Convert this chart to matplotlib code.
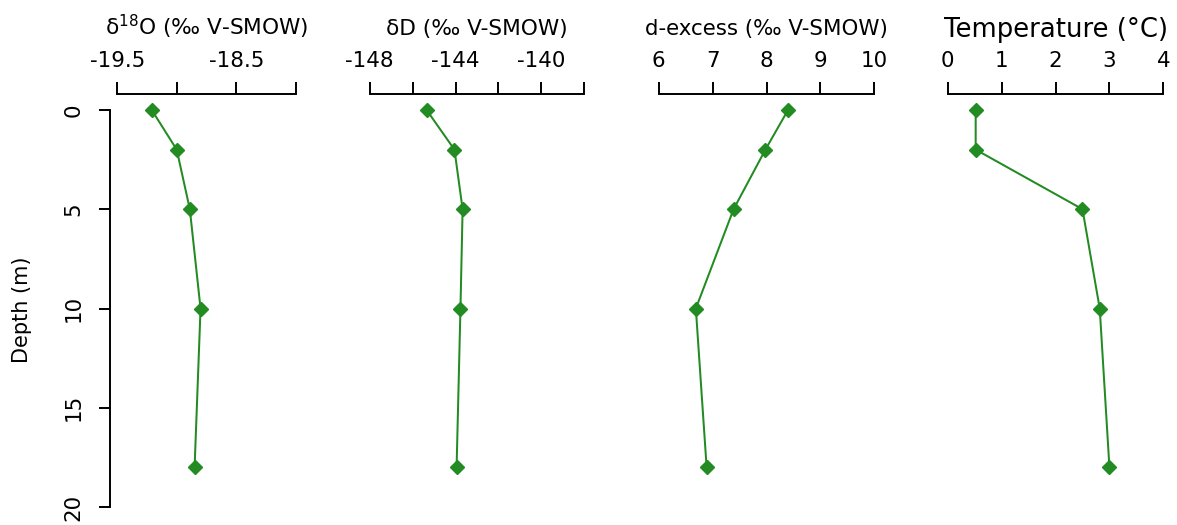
import matplotlib
matplotlib.use("Agg")
import matplotlib.pyplot as plt
from matplotlib.transforms import blended_transform_factory, Affine2D

plt.rcParams['font.family'] = ['DejaVu Sans']

depth = [0, 2, 5, 10, 18]
d18O = [-19.21, -19.00, -18.89, -18.80, -18.85]
dD = [-145.35, -144.05, -143.67, -143.77, -143.95]
dexcess = [8.40, 7.98, 7.39, 6.69, 6.89]
temperature = [0.52, 0.52, 2.50, 2.82, 3.00]

titles = [r"δ$^{18}$O (‰ V-SMOW)", "δD (‰ V-SMOW)", "d-excess (‰ V-SMOW)", "Temperature (°C)"]
xranges = [(-19.5, -18.0), (-148, -138), (6, 10), (0, 4)]
xticks = [[-19.5, -19.0, -18.5, -18.0], [-148, -146, -144, -142, -140, -138],
          [6, 7, 8, 9, 10], [0, 1, 2, 3, 4]]
xticklabels = [["-19.5", "", "-18.5", ""], ["-148", "", "-144", "", "-140", ""],
               ["6", "7", "8", "9", "10"], ["0", "1", "2", "3", "4"]]
series = [d18O, dD, dexcess, temperature]
yticks = [0, 5, 10, 15, 20]

W, H = 1177, 525
fig = plt.figure(figsize=(W / 100, H / 100), dpi=100)

regions = [(110, 303), (361, 593), (650, 883), (939, 1172)]
top_px, bot_px = 94, 523
green = "#228B22"
title_base = [35, 35, 35, 37]
title_size = [15.6, 15.6, 15.4, 18.6]
tick_size = 15.4

for i, (vals, (lo, hi), (l, r)) in enumerate(zip(series, xranges, regions)):
    ax = fig.add_axes([l / W, (H - bot_px) / H, (r - l) / W, (bot_px - top_px) / H])
    pad = 0.04 * (hi - lo)
    ax.set_xlim(lo - pad, hi + pad)
    ax.set_ylim(20.8, -0.8)
    ax.plot(vals, depth, color=green, lw=1.45, marker="D", ms=6.8, mec=green, mfc=green)
    for s in ["right", "bottom"]:
        ax.spines[s].set_visible(False)
    ax.spines["top"].set_bounds(lo, hi)
    ax.spines["top"].set_linewidth(1.4)
    ax.xaxis.tick_top()
    ax.set_xticks(xticks[i])
    ax.set_xticklabels(xticklabels[i], fontsize=tick_size)
    ax.tick_params(axis="x", direction="out", length=8.6, width=1.4, pad=8.0)
    tr = blended_transform_factory(ax.transData, Affine2D().scale(1.0 / W, -1.0 / H).translate(0, 1) + fig.transFigure)
    ax.text((lo + hi) / 2, title_base[i], titles[i], transform=tr, ha="center", va="baseline",
            fontsize=title_size[i])
    if i == 0:
        ax.spines["left"].set_bounds(0, 20)
        ax.spines["left"].set_linewidth(1.4)
        ax.set_yticks(yticks)
        ax.set_yticklabels([str(v) for v in yticks], fontsize=tick_size, rotation=90, va="center")
        ax.tick_params(axis="y", direction="out", length=8.2, width=1.4, pad=11)
    else:
        ax.spines["left"].set_visible(False)
        ax.set_yticks([])
    ax.patch.set_alpha(0)

fig.text(22 / W, 1 - 310 / H, "Depth (m)", rotation=90, ha="center", va="center", fontsize=15)

fig.savefig("out.png", dpi=100)
